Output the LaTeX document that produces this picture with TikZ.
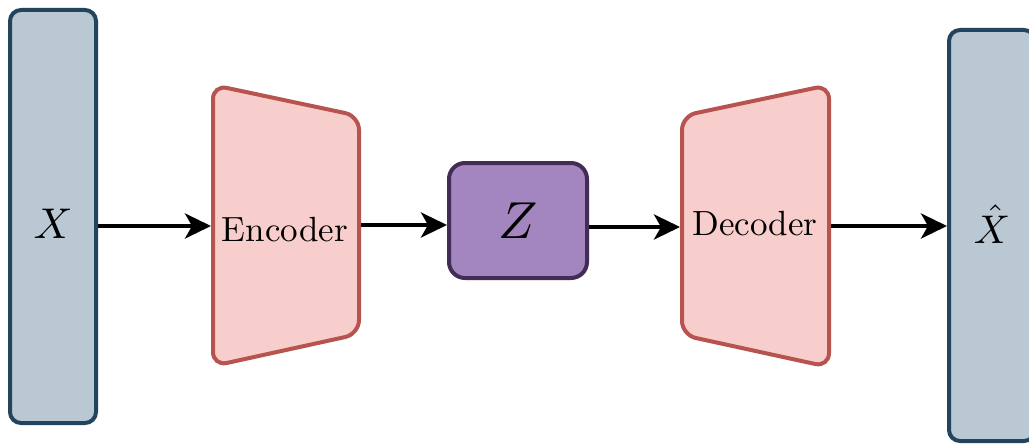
\RequirePackage{fix-cm}
\documentclass[tikz,border=0pt]{standalone}
\usetikzlibrary{arrows.meta}
\definecolor{boxfill}{HTML}{BAC8D3}
\definecolor{boxline}{HTML}{23445D}
\definecolor{trfill}{HTML}{F8CECC}
\definecolor{trline}{HTML}{B85450}
\definecolor{zfill}{HTML}{A385C0}
\definecolor{zline}{HTML}{432D57}
\tikzset{
  databox/.style={draw=boxline, fill=boxfill, line width=4pt, rounded corners=11pt,
    minimum width=86pt, inner sep=0pt},
  trap/.style={draw=trline, fill=trfill, line width=4pt, rounded corners=14pt},
  latent/.style={draw=zline, fill=zfill, line width=4pt, rounded corners=16pt,
    minimum width=138pt, minimum height=115pt, inner sep=0pt},
  lbl/.style={inner sep=0pt},
  arr/.style={line width=4pt, -{Stealth[length=26pt,width=25pt,inset=7pt]}}
}
\begin{document}
\begin{tikzpicture}[x=1pt,y=-1pt]
\useasboundingbox[fill=white] (0,0) rectangle (1029,444);
% input and output
\node[databox, minimum height=413pt] (xbox) at (53,216.5) {};
\node[lbl] (xl) at (53,224) {\scalebox{4.3}{$X$}};
\node[databox, minimum height=411pt] (xh) at (992,235.5) {};
\node[lbl, anchor=base] (xhl) at (992,243) {\scalebox{4.0}{$\hat{X}$}};
% encoder
\draw[trap] (213,85) -- (359,116) -- (359,334) -- (213,366) -- cycle;
\node[lbl] (enc) at (285,230) {\scalebox{3.5}{Encoder}};
\coordinate (encin) at (211,226);
\coordinate (encout) at (361,225);
% latent
\node[latent] (z) at (518,220.5) {\scalebox{5.2}{$Z$}};
% decoder
\draw[trap] (682,116) -- (829,85) -- (829,367) -- (682,335) -- cycle;
\node[lbl] (dec) at (755,223.5) {\scalebox{3.5}{Decoder}};
\coordinate (decin) at (680,227);
\coordinate (decout) at (831,226);
% connectors
\draw[arr] (xbox.east |- encin) -- (encin);
\draw[arr] (encout) -- (z.west |- encout);
\draw[arr] (z.east |- decin) -- (decin);
\draw[arr] (decout) -- (xh.west |- decout);
\end{tikzpicture}
\end{document}
